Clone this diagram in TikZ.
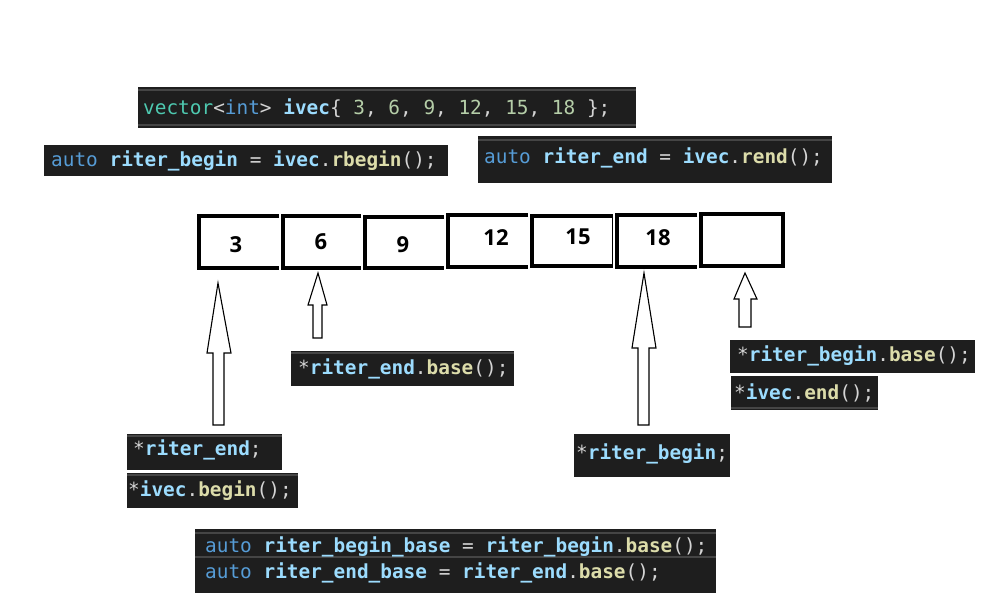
\documentclass[tikz,border=0pt]{standalone}
\usepackage{fontspec}
\setmainfont{Open Sans}
\newfontfamily\codefont{DejaVu Sans Mono}
\newfontfamily\numfont{Open Sans}
\definecolor{cbg}{HTML}{1E1E1E}
\definecolor{chl}{HTML}{454545}
\definecolor{ckw}{HTML}{569CD6}
\definecolor{cvar}{HTML}{9CDCFE}
\definecolor{cfn}{HTML}{DCDCAA}
\definecolor{cty}{HTML}{4EC9B0}
\definecolor{cnum}{HTML}{B5CEA8}
\definecolor{cpu}{HTML}{D4D4D4}
\newcommand\cKw[1]{\textcolor{ckw}{#1}}
\newcommand\cVar[1]{\textcolor{cvar}{\bfseries #1}}
\newcommand\cFn[1]{\textcolor{cfn}{\bfseries #1}}
\newcommand\cTy[1]{\textcolor{cty}{#1}}
\newcommand\cNum[1]{\textcolor{cnum}{#1}}
\newcommand\cPu[1]{\textcolor{cpu}{#1}}
\frenchspacing
\tikzset{
  codebox/.style={fill=cbg, draw=none, anchor=north west, inner sep=0pt, outer sep=0pt},
  hl/.style={draw=chl, line width=2pt},
  code/.style={anchor=base west, inner sep=0pt, font=\codefont\fontsize{19.4}{22}\selectfont, text=cpu},
  cellline/.style={line width=4pt, draw=black},
  cellnum/.style={font=\numfont\bfseries\fontsize{22}{24}\selectfont, inner sep=0pt},
  blockarrow/.style={draw=black, fill=white, line width=1.1pt, line join=miter}
}
\begin{document}
\begin{tikzpicture}[x=1pt, y=-1pt]
\useasboundingbox (0,0) rectangle (997,610);

% ---------- code boxes ----------
\node[codebox, minimum width=498pt, minimum height=41pt] (b1) at (138,87) {};
\draw[hl] ([yshift=-3pt]b1.north west) -- ([yshift=-3pt]b1.north east);
\draw[hl] ([yshift=3pt]b1.south west) -- ([yshift=3pt]b1.south east);
\node[code] (t1) at (143,114) {\cTy{vector}<\cKw{int}> \cVar{ivec}\{ \cNum{3}, \cNum{6}, \cNum{9}, \cNum{12}, \cNum{15}, \cNum{18} \};};

\node[codebox, minimum width=404pt, minimum height=31pt] (b2) at (44,145) {};
\node[code] (t2) at (51,166) {\cKw{auto} \cVar{riter\_begin} = \cVar{ivec}.\cFn{rbegin}();};

\node[codebox, minimum width=354pt, minimum height=47pt] (b3) at (478,136) {};
\draw[hl] ([yshift=-4pt]b3.north west) -- ([yshift=-4pt]b3.north east);
\node[code] (t3) at (484,164) {\cKw{auto} \cVar{riter\_end} = \cVar{ivec}.\cFn{rend}();};

\node[codebox, minimum width=223pt, minimum height=35pt] (b4) at (291,351) {};
\draw[hl] ([yshift=-2pt]b4.north west) -- ([yshift=-2pt]b4.north east);
\node[code] (t4) at (298,374) {*\cVar{riter\_end}.\cFn{base}();};

\node[codebox, minimum width=245pt, minimum height=33pt] (b5) at (730,340) {};
\node[code] (t5) at (737,361) {*\cVar{riter\_begin}.\cFn{base}();};

\node[codebox, minimum width=147pt, minimum height=34pt] (b6) at (731,376) {};
\draw[hl] ([yshift=2pt]b6.south west) -- ([yshift=2pt]b6.south east);
\node[code] (t6) at (734,399) {*\cVar{ivec}.\cFn{end}();};

\node[codebox, minimum width=155pt, minimum height=36pt] (b7) at (127,434) {};
\draw[hl] ([yshift=-2pt]b7.north west) -- ([yshift=-2pt]b7.north east);
\node[code] (t7) at (133,455) {*\cVar{riter\_end};};

\node[codebox, minimum width=171pt, minimum height=35pt] (b8) at (127,473) {};
\draw[hl] ([yshift=-2pt]b8.north west) -- ([yshift=-2pt]b8.north east);
\node[code] (t8) at (128,496) {*\cVar{ivec}.\cFn{begin}();};

\node[codebox, minimum width=156pt, minimum height=43pt] (b9) at (574,434) {};
\node[code] (t9) at (576,459) {*\cVar{riter\_begin};};

\node[codebox, minimum width=521pt, minimum height=64pt] (b10) at (195,529) {};
\draw[hl] ([yshift=-4pt]b10.north west) -- ([yshift=-4pt]b10.north east);
\draw[hl] ([yshift=-28pt]b10.north west) -- ([yshift=-28pt]b10.north east);
\node[code] (t10) at (205,552) {\cKw{auto} \cVar{riter\_begin\_base} = \cVar{riter\_begin}.\cFn{base}();};
\node[code] (t11) at (205,578) {\cKw{auto} \cVar{riter\_end\_base} = \cVar{riter\_end}.\cFn{base}();};

% ---------- cells ----------
\draw[cellline] (279,216) -- (199,216) -- (199,268) -- (279,268);
\draw[cellline] (361,216) -- (283,216) -- (283,268) -- (361,268);
\draw[cellline] (444,217) -- (365,217) -- (365,268) -- (444,268);
\draw[cellline] (528,215) -- (448,215) -- (448,267) -- (528,267);
\draw[cellline] (613,216) -- (532,216) -- (532,266) -- (613,266);
\draw[line width=1.2pt] (612.4,214) -- (612.4,268);
\draw[cellline] (697,215) -- (617,215) -- (617,267) -- (697,267);
\draw[cellline] (701,214) rectangle (783,266);

\node[cellnum] (n1) at (236,245) {3};
\node[cellnum] (n2) at (321,242) {6};
\node[cellnum] (n3) at (403,245) {9};
\node[cellnum] (n4) at (496,238) {12};
\node[cellnum] (n5) at (578,237) {15};
\node[cellnum] (n6) at (658,238) {18};

% ---------- block arrows ----------
\draw[blockarrow] (218,283) -- (231,353) -- (224,353) -- (224,425) -- (213,425) -- (213,353) -- (207,353) -- cycle;
\draw[blockarrow] (318,273) -- (327,305) -- (322,305) -- (322,338) -- (313,338) -- (313,305) -- (308,305) -- cycle;
\draw[blockarrow] (644,273) -- (656,348) -- (649,348) -- (649,425) -- (638,425) -- (638,348) -- (632,348) -- cycle;
\draw[blockarrow] (745,273) -- (757,299) -- (751,299) -- (751,327) -- (739,327) -- (739,299) -- (734,299) -- cycle;
\end{tikzpicture}
\end{document}
